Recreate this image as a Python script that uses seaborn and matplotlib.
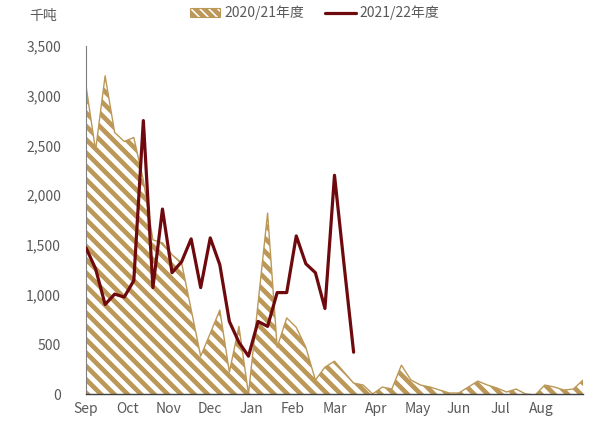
import numpy as np
import pandas as pd
import matplotlib
matplotlib.use("Agg")
import matplotlib.pyplot as plt
from matplotlib.patches import Patch
from matplotlib.lines import Line2D
from matplotlib.ticker import FuncFormatter
import seaborn as sns

# weekly values, thousand tonnes (week 0 = first week of Sep)
season_2021 = [3100, 2450, 3200, 2630, 2540, 2580, 2150, 1550, 1520, 1400,
               1320, 850, 380, 610, 845, 220, 680, 0, 910, 1820,
               470, 765, 670, 470, 140, 270, 330, 220, 110, 90,
               0, 70, 50, 290, 140, 90, 70, 40, 10, 10,
               70, 130, 90, 60, 20, 50, 0, -10, 90, 70,
               40, 50, 140]
season_2122 = [1470, 1260, 900, 1005, 975, 1140, 2750, 1070, 1860, 1220,
               1330, 1560, 1070, 1570, 1300, 730, 520, 380, 730, 680,
               1020, 1020, 1590, 1310, 1220, 860, 2200, 1300, 420]
months = ["Sep", "Oct", "Nov", "Dec", "Jan", "Feb", "Mar", "Apr", "May", "Jun", "Jul", "Aug"]
label_2021 = "2020/21年度"
label_2122 = "2021/22年度"

df_a = pd.DataFrame({"week": np.arange(len(season_2021)), "val": season_2021})
df_b = pd.DataFrame({"week": np.arange(len(season_2122)), "val": season_2122})

tan = "#BC9858"
maroon = "#6E0A0E"
grey = "#595959"

# lower dpi so the hatch stripes come out denser; sizes scaled up to match
DPI = 80
k = 100 / DPI

sns.set_style("white")
plt.rcParams["font.family"] = ["Noto Sans CJK SC", "DejaVu Sans"]
plt.rcParams["hatch.linewidth"] = 4.2
plt.rcParams["hatch.color"] = tan

fig = plt.figure(figsize=(605 / DPI, 431 / DPI), dpi=DPI)
ax = fig.add_axes([86 / 605, 1 - 394 / 431, (583 - 86) / 605, (394 - 46) / 431])

ax.fill_between(df_a["week"], 0, df_a["val"], facecolor="white", edgecolor=tan,
                hatch="\\\\", linewidth=0, zorder=1)
sns.lineplot(data=df_a, x="week", y="val", color=tan, linewidth=1.0 * k, ax=ax, zorder=2)
sns.lineplot(data=df_b, x="week", y="val", color=maroon, linewidth=2.3 * k, ax=ax, zorder=3)

n_weeks = len(season_2021) - 1
ax.set_xlim(0, n_weeks)
ax.set_ylim(0, 3500)
ax.set_xticks(np.arange(12) * n_weeks / 12)
ax.set_xticklabels(months)
ax.set_yticks(np.arange(0, 3501, 500))
ax.yaxis.set_major_formatter(FuncFormatter(lambda v, p: f"{int(v):,}"))
ax.set_xlabel("")
ax.set_ylabel("")

for s in ["top", "right"]:
    ax.spines[s].set_visible(False)
ax.spines["left"].set_color("#7f7f7f")
ax.spines["left"].set_linewidth(0.8 * k)
ax.spines["bottom"].set_color("#404040")
ax.spines["bottom"].set_linewidth(1.0 * k)

ax.tick_params(axis="x", direction="in", length=4 * k, width=1 * k, color="black",
               labelsize=10 * k, labelcolor=grey, pad=6 * k)
ax.tick_params(axis="y", length=0, labelsize=10 * k, labelcolor=grey, pad=18 * k)

fig.text(29 / 605, 1 - 16 / 431, "千吨", fontsize=10 * k, color=grey, va="center", ha="left")

handles = [Patch(facecolor="white", edgecolor=tan, hatch="\\\\\\", linewidth=0.8 * k),
           Line2D([0], [0], color=maroon, linewidth=2.3 * k)]
fig.legend(handles, [label_2021, label_2122], loc="center", bbox_to_anchor=(0.52, 1 - 13 / 431),
           ncol=2, frameon=False, fontsize=10 * k, handlelength=2.2, columnspacing=1.5,
           handletextpad=0.3, labelcolor=grey)

fig.savefig("out.png", dpi=DPI)
